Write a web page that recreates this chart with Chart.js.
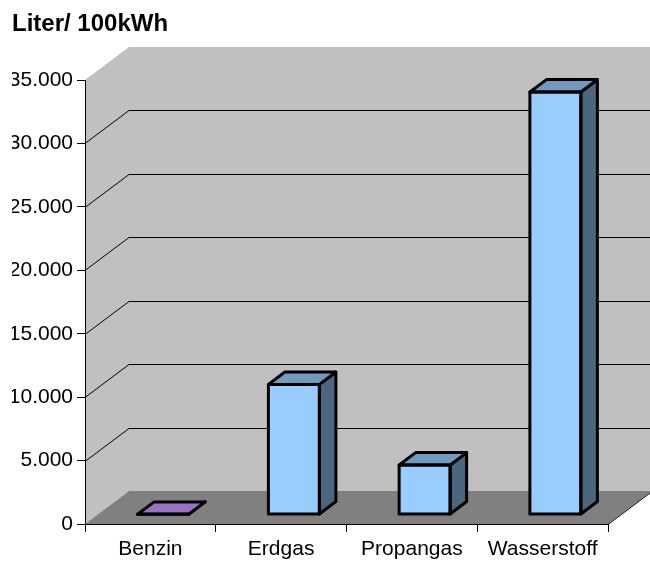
<!DOCTYPE html>
<html>
<head>
<meta charset="utf-8">
<script src="https://cdn.jsdelivr.net/npm/chart.js@4/dist/chart.umd.min.js"></script>
<style>
  html, body { margin: 0; padding: 0; background: #fff; }
  canvas { display: block; }
</style>
</head>
<body>
<canvas id="chart" width="650" height="561"></canvas>
<script>
// Volume needed for 100 kWh of energy, per fuel
const categories = ['Benzin', 'Erdgas', 'Propangas', 'Wasserstoff'];
const literPer100kWh = [11, 10250, 3900, 33300];
const yMax = 35000;
const yStep = 5000;

const FONT = "'Liberation Sans', Arial, sans-serif";
// Oblique projection of the 3D box: offset of the back plane
const DEPTH = { x: 44, y: -33 };
// Bars sit inside the box between these fractions of the depth
const BAR_FRONT = 0.29;
const BAR_DEPTH = 0.375;
const barColors = ['#CC99FF', '#99CCFF', '#99CCFF', '#99CCFF'];

function shade(hex, f) {
  const n = parseInt(hex.slice(1), 16);
  const r = Math.round(((n >> 16) & 255) * f);
  const g = Math.round(((n >> 8) & 255) * f);
  const b = Math.round((n & 255) * f);
  return `rgb(${r},${g},${b})`;
}

const formatDE = v => String(v).replace(/\B(?=(\d{3})+(?!\d))/g, '.');

// Side wall, back wall, floor and the gridlines running over them
const wallsPlugin = {
  id: 'walls',
  beforeDraw(chart) {
    const { ctx, chartArea: a, scales: { y } } = chart;
    const dx = DEPTH.x, dy = DEPTH.y;
    ctx.save();
    ctx.fillStyle = '#C0C0C0';
    ctx.beginPath();
    ctx.moveTo(a.left, a.top);
    ctx.lineTo(a.left + dx, a.top + dy);
    ctx.lineTo(a.right + dx, a.top + dy);
    ctx.lineTo(a.right + dx, a.bottom + dy);
    ctx.lineTo(a.left + dx, a.bottom + dy);
    ctx.lineTo(a.left, a.bottom);
    ctx.closePath();
    ctx.fill();

    ctx.fillStyle = '#808080';
    ctx.beginPath();
    ctx.moveTo(a.left, a.bottom);
    ctx.lineTo(a.right, a.bottom);
    ctx.lineTo(a.right + dx, a.bottom + dy);
    ctx.lineTo(a.left + dx, a.bottom + dy);
    ctx.closePath();
    ctx.fill();

    ctx.strokeStyle = '#000';
    ctx.lineWidth = 1;
    for (let v = yStep; v < yMax; v += yStep) {
      const py = Math.round(y.getPixelForValue(v)) + 0.5;
      ctx.beginPath();
      ctx.moveTo(a.left, py);
      ctx.lineTo(a.left + dx, py + dy);
      ctx.lineTo(a.right + dx, py + dy);
      ctx.stroke();
    }
    ctx.beginPath();
    ctx.moveTo(a.right, a.bottom + 0.5);
    ctx.lineTo(a.right + dx, a.bottom + dy + 0.5);
    ctx.stroke();
    ctx.restore();
  }
};

// Shift bars into the box and add their top and side faces
const bars3dPlugin = {
  id: 'bars3d',
  beforeDatasetsDraw(chart) {
    chart.ctx.save();
    chart.ctx.translate(DEPTH.x * BAR_FRONT, DEPTH.y * BAR_FRONT);
  },
  afterDatasetsDraw(chart) {
    const ctx = chart.ctx;
    const bdx = DEPTH.x * BAR_DEPTH, bdy = DEPTH.y * BAR_DEPTH;
    chart.getDatasetMeta(0).data.forEach((bar, i) => {
      const { x, y, base, width } = bar.getProps(['x', 'y', 'base', 'width'], true);
      const x0 = x - width / 2, x1 = x + width / 2;
      const col = barColors[i];
      const side = [[x1, y], [x1 + bdx, y + bdy], [x1 + bdx, base + bdy], [x1, base]];
      const top = [[x0, y], [x0 + bdx, y + bdy], [x1 + bdx, y + bdy], [x1, y]];
      const front = [[x0, y], [x1, y], [x1, base], [x0, base]];
      const poly = (pts, fill) => {
        ctx.beginPath();
        pts.forEach(([px, py], k) => (k ? ctx.lineTo(px, py) : ctx.moveTo(px, py)));
        ctx.closePath();
        if (fill) { ctx.fillStyle = fill; ctx.fill(); }
        ctx.lineWidth = 3;
        ctx.lineJoin = 'round';
        ctx.strokeStyle = '#000';
        ctx.stroke();
      };
      poly(side, shade(col, 0.5));
      poly(top, shade(col, 0.75));
      poly(front, null);
    });
    ctx.restore();
  }
};

new Chart(document.getElementById('chart'), {
  type: 'bar',
  data: {
    labels: categories,
    datasets: [{
      data: literPer100kWh,
      backgroundColor: barColors,
      borderWidth: 0,
      barPercentage: 0.39,
      categoryPercentage: 1,
      clip: false
    }]
  },
  options: {
    responsive: false,
    animation: false,
    devicePixelRatio: 1,
    layout: { padding: { left: 12, right: 42, top: 0, bottom: 0 } },
    plugins: {
      legend: { display: false },
      tooltip: { enabled: false },
      title: {
        display: true,
        text: 'Liter/ 100kWh',
        align: 'start',
        color: '#000',
        font: { family: FONT, size: 24, weight: 'bold', lineHeight: 1.2 },
        padding: { top: 10, bottom: 41.2 }
      }
    },
    scales: {
      x: {
        grid: { display: true, drawOnChartArea: false, drawTicks: true, tickLength: 8, color: '#000', offset: true },
        border: { display: true, color: '#000', width: 1 },
        ticks: { color: '#000', font: { family: FONT, size: 21 }, padding: 5, maxRotation: 0, autoSkip: false },
        afterFit: s => { s.height = 37; }
      },
      y: {
        min: 0,
        max: yMax,
        ticks: { stepSize: yStep, color: '#000', font: { family: FONT, size: 21 }, padding: 4, callback: v => formatDE(v) },
        grid: { drawOnChartArea: false, drawTicks: true, tickLength: 8, color: '#000' },
        border: { display: true, color: '#000', width: 1 },
        afterFit: s => { s.width = 73; }
      }
    }
  },
  plugins: [wallsPlugin, bars3dPlugin]
});
</script>
</body>
</html>
